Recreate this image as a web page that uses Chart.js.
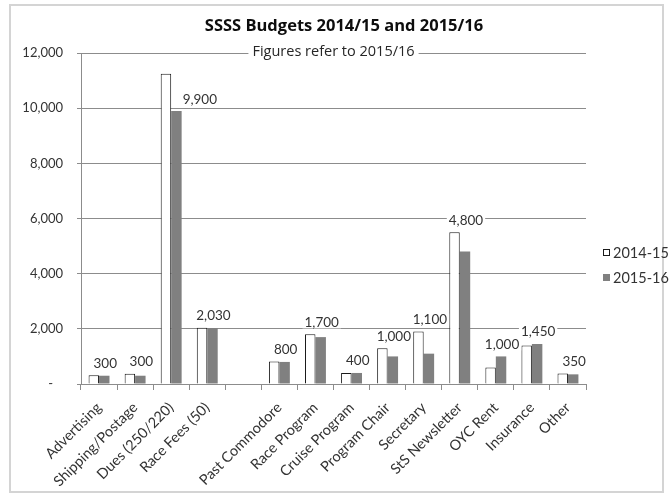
<!DOCTYPE html>
<html>
<head>
<meta charset="utf-8">
<script src="https://cdn.jsdelivr.net/npm/chart.js@4/dist/chart.umd.min.js"></script>
<style>
  html, body { margin: 0; padding: 0; background: #fff; }
  #wrap { width: 671px; height: 495px; }
</style>
</head>
<body>
<div id="wrap"><canvas id="chart"></canvas></div>
<script>
const categories = ['Advertising', 'Shipping/Postage', 'Dues (250/220)', 'Race Fees (50)', '',
  'Past Commodore', 'Race Program', 'Cruise Program', 'Program Chair', 'Secretary',
  'StS Newsletter', 'OYC Rent', 'Insurance', 'Other'];
const budget1415 = [320, 370, 11250, 2040, null, 820, 1800, 400, 1300, 1900, 5500, 600, 1400, 380];
const budget1516 = [300, 300, 9900, 2030, null, 800, 1700, 400, 1000, 1100, 4800, 1000, 1450, 350];
const seriesNames = ['2014-15', '2015-16'];
const yTicks = [0, 2000, 4000, 6000, 8000, 10000, 12000];

const FONT = 'Lato, "Open Sans", sans-serif';
const TEXT = '#333333';
const GRID = '#8c8c8c';

const fmt = v => v.toLocaleString('en-US');

// frame round the whole chart, drawn first
const framePlugin = {
  id: 'frame',
  beforeDraw(chart) {
    const ctx = chart.ctx;
    ctx.save();
    ctx.fillStyle = '#fff';
    ctx.fillRect(0, 0, chart.width, chart.height);
    ctx.strokeStyle = '#d4d4d4';
    ctx.lineWidth = 2;
    ctx.strokeRect(10, 5, 653, 487);
    ctx.restore();
  }
};

// title, labels on the 2015/16 bars, the note and the legend
const notesPlugin = {
  id: 'notes',
  afterDatasetsDraw(chart) {
    const ctx = chart.ctx;
    const y = chart.scales.y;
    const area = chart.chartArea;
    const old = chart.getDatasetMeta(0).data;
    const cur = chart.getDatasetMeta(1).data;
    ctx.save();

    ctx.font = 'bold 16.5px "Open Sans", sans-serif';
    ctx.fillStyle = '#0d0d0d';
    ctx.textAlign = 'center';
    ctx.textBaseline = 'alphabetic';
    ctx.fillText('SSSS Budgets 2014/15 and 2015/16', 344, 31);

    ctx.font = '13.5px ' + FONT;
    ctx.textBaseline = 'middle';
    budget1516.forEach((v, i) => {
      if (v == null) return;
      const bar = cur[i];
      const oldTop = old[i].y;
      const txt = fmt(v);
      const w = ctx.measureText(txt).width;
      let x, ty;
      if (bar.y - oldTop > 30) {
        x = bar.x + bar.width / 2 + 1 + w / 2;
        ty = bar.y - 11;
      } else {
        x = bar.x + 1;
        ty = Math.min(bar.y, oldTop) - 12;
      }
      ctx.fillStyle = '#fff';
      ctx.fillRect(x - w / 2 - 2, ty - 6, w + 4, 12);
      ctx.fillStyle = TEXT;
      ctx.textAlign = 'center';
      ctx.fillText(txt, x, ty);
    });

    // note sitting on the top gridline
    const note = 'Figures refer to 2015/16';
    ctx.font = '14.5px "Open Sans", sans-serif';
    const nw = ctx.measureText(note).width;
    const nx = (area.left + area.right) / 2;
    const ny = y.getPixelForValue(12000) - 1;
    ctx.fillStyle = '#fff';
    ctx.fillRect(nx - nw / 2 - 4, ny - 8, nw + 8, 16);
    ctx.fillStyle = '#262626';
    ctx.textAlign = 'center';
    ctx.fillText(note, nx, ny);

    // legend
    const lx = area.right + 17;
    const colors = [['#fff', '#1a1a1a'], ['#808080', '#808080']];
    ctx.font = '14.5px ' + FONT;
    ctx.textAlign = 'left';
    seriesNames.forEach((name, i) => {
      const cy = 253 + i * 25;
      ctx.fillStyle = colors[i][0];
      ctx.fillRect(lx, cy - 4, 7, 7);
      ctx.strokeStyle = colors[i][1];
      ctx.lineWidth = 1;
      ctx.strokeRect(lx + 0.5, cy - 3.5, 6, 6);
      ctx.fillStyle = TEXT;
      ctx.fillText(name, lx + 10, cy);
    });
    ctx.restore();
  }
};

new Chart(document.getElementById('chart'), {
  type: 'bar',
  data: {
    labels: categories,
    datasets: [
      {
        label: seriesNames[0],
        data: budget1415,
        backgroundColor: '#ffffff',
        borderColor: '#1a1a1a',
        borderWidth: 1,
        categoryPercentage: 0.58,
        barPercentage: 1.0
      },
      {
        label: seriesNames[1],
        data: budget1516,
        backgroundColor: '#808080',
        borderWidth: 0,
        categoryPercentage: 0.58,
        barPercentage: 1.0
      }
    ]
  },
  options: {
    responsive: true,
    maintainAspectRatio: false,
    animation: false,
    layout: { padding: { left: 17, right: 85, top: 53, bottom: 8 } },
    plugins: {
      legend: { display: false },
      tooltip: { enabled: false },
      title: { display: false }
    },
    scales: {
      x: {
        grid: { display: true, drawOnChartArea: false, drawTicks: true, tickLength: 6, color: GRID, offset: true },
        border: { color: GRID },
        ticks: {
          autoSkip: false,
          minRotation: 45,
          maxRotation: 45,
          padding: 9,
          color: TEXT,
          font: { family: FONT, size: 14.5 }
        },
        afterFit(scale) { scale.height = 103; }
      },
      y: {
        min: 0,
        max: 12000,
        afterBuildTicks(scale) { scale.ticks = yTicks.map(v => ({ value: v })); },
        grid: { color: GRID, tickLength: 4 },
        border: { color: GRID },
        ticks: {
          padding: 14,
          color: TEXT,
          font: { family: FONT, size: 13 },
          callback: v => v === 0 ? '-   ' : fmt(v)
        },
        afterFit(scale) { scale.width = 64; }
      }
    }
  },
  plugins: [framePlugin, notesPlugin]
});
</script>
</body>
</html>
